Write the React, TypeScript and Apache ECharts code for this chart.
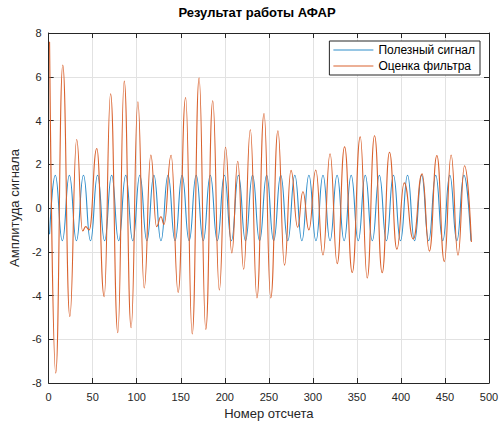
import React, { useEffect, useRef } from 'react';
import * as echarts from 'echarts';

const titleText = 'Результат работы АФАР';
const xAxisName = 'Номер отсчета';
const yAxisName = 'Амплитуда сигнала';
const seriesNames = ['Полезный сигнал', 'Оценка фильтра'];

const xMin = 0;
const xMax = 500;
const xStep = 50;
const yMin = -8;
const yMax = 8;
const yStep = 2;

// Useful signal: sample positions of its extremes and their values
const blueTimes = [
  1, 7.5, 15.5, 23.5, 31.5, 39.5, 47.5, 55.5, 63.5, 71.5, 79.5, 87.5, 95.5, 103.5, 111.5, 119.5,
  127.5, 135.5, 143.5, 151.5, 159.5, 167.5, 175.5, 183.5, 191.5, 199.5, 207.5, 215.5, 223.5, 231.5,
  239.5, 247.5, 255.5, 263.5, 271.5, 279.5, 287.5, 295.5, 303.5, 311.5, 319.5, 327.5, 335.5, 343.5,
  351.5, 359.5, 367.5, 375.5, 383.5, 391.5, 399.5, 407.5, 415.5, 423.5, 431.5, 439.5, 447.5, 455.5,
  463.5, 471.5, 479.5,
];
const blueValues = [
  -1.2, 1.5, -1.5, 1.5, -1.5, 1.5, -1.5, 1.5, -1.5, 1.5, -1.5, 1.5, -1.5, 1.5, -1.5, 1.5,
  -1.5, 1.5, -1.5, 1.5, -1.5, 1.5, -1.5, 1.5, -1.5, 1.5, -1.5, 1.5, -1.5, 1.5,
  -1.5, 1.5, -1.5, 1.5, -1.5, 1.5, -1.5, 1.5, -1.5, 1.5, -1.5, 1.5, -1.5, 1.5,
  -1.5, 1.5, -1.5, 1.5, -1.5, 1.5, -1.5, 1.5, -1.5, 1.5, -1.5, 1.5, -1.5, 1.5,
  -1.5, 1.5, -1.5,
];

// Filter estimate: sample positions of its extremes and their values
const orangeTimes = [
  1, 8, 16, 24, 31.8, 38.5, 42, 46, 54.6, 63, 70.3, 78.5, 85.8, 93.6, 101.3, 108.5, 116,
  122.5, 127.5, 131, 139, 147, 155.5, 163, 170.8, 178.4, 186.3, 193.8, 200.8, 208, 214.7,
  221.4, 229, 236.5, 244.5, 252.2, 260.3, 267.8, 275.2, 282.7, 288.7, 295.5, 303.3, 311.5,
  319.5, 327.6, 336, 344.7, 353.8, 361.7, 370, 378.7, 387, 395.4, 403.8, 414, 424, 432.3,
  440.8, 449.3, 457, 464.8, 472.2, 480,
];
const orangeValues = [
  7.6, -7.55, 6.54, -4.96, 3.13, -1.05, -0.85, -1.0, 2.72, -4.05, 5.22, -5.7, 5.8, -5.47, 4.85, -3.66, 2.42,
  -0.85, -0.4, -0.75, 2.41, -3.86, 5.05, -5.76, 5.95, -5.55, 4.9, -3.75, 2.78, -2.05, 2.14,
  -2.8, 3.58, -4.11, 4.32, -4.11, 3.53, -2.61, 1.72, -0.88, 0.74, -1.0, 1.74, -2.15,
  2.48, -2.55, 2.8, -2.95, 3.25, -3.2, 3.3, -2.96, 2.55, -1.88, 1.15, -1.42, 1.56, -1.97,
  2.4, -2.45, 2.42, -2.16, 1.93, -1.55,
];

const FONT = "'Liberation Sans', Arial, sans-serif";
const AXIS_COLOR = '#262626';
const GRID_COLOR = '#e2e2e2';
const BLUE = '#2f8dca';
const ORANGE = '#d9622e';
const LEGEND_LINE = 'path://M0,0L60,0L60,1.3L0,1.3Z';

export default function App() {
  const ref = useRef<HTMLDivElement>(null);

  useEffect(() => {
    document.body.style.margin = '0';
    const chart = echarts.init(ref.current as HTMLDivElement, null, { renderer: 'svg' });

    const blueData = blueTimes.map((t, i) => [t, blueValues[i]]);
    const orangeData = orangeTimes.map((t, i) => [t, orangeValues[i]]);

    const boxAxis = (pos: string) => ({
      type: 'value',
      min: pos === 'top' || pos === 'bottom' ? xMin : yMin,
      max: pos === 'top' || pos === 'bottom' ? xMax : yMax,
      interval: pos === 'top' || pos === 'bottom' ? xStep : yStep,
      position: pos,
      axisLine: { show: true, onZero: false, lineStyle: { color: AXIS_COLOR, width: 1 } },
      axisTick: { show: true, inside: true, length: 5, lineStyle: { color: AXIS_COLOR, width: 1 } },
      axisLabel: { show: false },
      splitLine: { show: false },
    });

    chart.setOption({
      animation: false,
      backgroundColor: '#ffffff',
      textStyle: { fontFamily: FONT },
      title: {
        text: titleText,
        left: 257,
        top: 6,
        textAlign: 'center',
        padding: 0,
        textStyle: { fontSize: 13, fontWeight: 'bold', color: '#000000', fontFamily: FONT },
      },
      grid: { left: 44, top: 33, right: 13, bottom: 44, containLabel: false },
      legend: {
        orient: 'vertical',
        right: 22,
        top: 41,
        padding: [3, 5, 3, 4],
        itemGap: 4,
        itemWidth: 40,
        itemHeight: 14,
        backgroundColor: '#ffffff',
        borderColor: AXIS_COLOR,
        borderWidth: 1,
        borderRadius: 0,
        selectedMode: false,
        textStyle: { fontSize: 12, color: '#000000', fontFamily: FONT },
        data: [
          { name: seriesNames[0], icon: LEGEND_LINE },
          { name: seriesNames[1], icon: LEGEND_LINE },
        ],
      },
      xAxis: [
        {
          type: 'value',
          min: xMin,
          max: xMax,
          interval: xStep,
          position: 'bottom',
          name: xAxisName,
          nameLocation: 'middle',
          nameGap: 22,
          nameTextStyle: { fontSize: 13, color: AXIS_COLOR, fontFamily: FONT },
          axisLine: { show: true, onZero: false, lineStyle: { color: AXIS_COLOR, width: 1 } },
          axisTick: { show: true, inside: true, length: 5, lineStyle: { color: AXIS_COLOR, width: 1 } },
          axisLabel: { fontSize: 11, color: AXIS_COLOR, margin: 8, fontFamily: FONT },
          splitLine: { show: true, lineStyle: { color: GRID_COLOR, width: 1 } },
        },
        boxAxis('top'),
      ],
      yAxis: [
        {
          type: 'value',
          min: yMin,
          max: yMax,
          interval: yStep,
          position: 'left',
          name: yAxisName,
          nameLocation: 'middle',
          nameGap: 23,
          nameTextStyle: { fontSize: 13, color: AXIS_COLOR, fontFamily: FONT },
          axisLine: { show: true, onZero: false, lineStyle: { color: AXIS_COLOR, width: 1 } },
          axisTick: { show: true, inside: true, length: 5, lineStyle: { color: AXIS_COLOR, width: 1 } },
          axisLabel: { fontSize: 11, color: AXIS_COLOR, margin: 7, fontFamily: FONT },
          splitLine: { show: true, lineStyle: { color: GRID_COLOR, width: 1 } },
        },
        boxAxis('right'),
      ],
      series: [
        {
          name: seriesNames[0],
          type: 'line',
          xAxisIndex: 0,
          yAxisIndex: 0,
          data: blueData,
          smooth: 0.5,
          smoothMonotone: 'x',
          symbol: 'none',
          silent: true,
          z: 2,
          lineStyle: { color: BLUE, width: 1.1 },
          itemStyle: { color: BLUE },
        },
        {
          name: seriesNames[1],
          type: 'line',
          xAxisIndex: 0,
          yAxisIndex: 0,
          data: orangeData,
          smooth: 0.5,
          smoothMonotone: 'x',
          symbol: 'none',
          silent: true,
          z: 3,
          lineStyle: { color: ORANGE, width: 1.1 },
          itemStyle: { color: ORANGE },
        },
      ],
    });

    return () => chart.dispose();
  }, []);

  return <div ref={ref} style={{ width: 502, height: 427, background: '#ffffff' }} />;
}
